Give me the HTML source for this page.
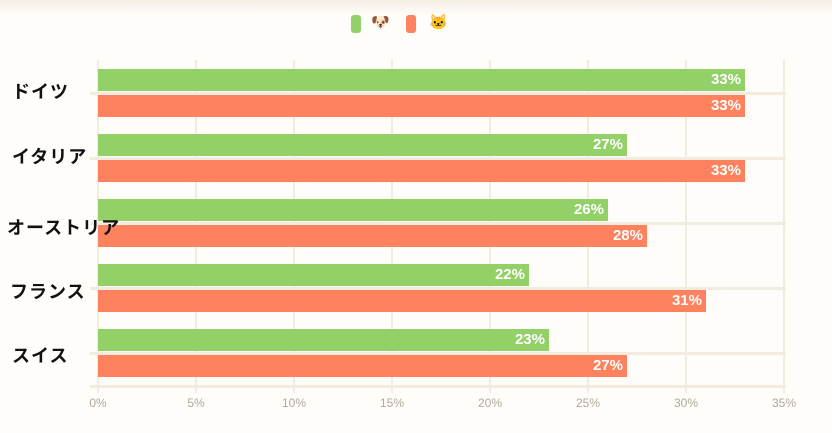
<!DOCTYPE html>
<html><head><meta charset="utf-8"><style>
body{margin:0;width:832px;height:433px;overflow:hidden;background:#fffdfa;font-family:"Liberation Sans","Noto Sans CJK JP",sans-serif;position:relative}
.top{position:absolute;left:0;top:0;width:832px;height:16px;background:linear-gradient(#f5eee4,#fffdfa)}
.v{position:absolute;top:60px;height:333px;width:2px;background:#f1ebe0}
.h{position:absolute;left:90px;width:696px;height:3px;background:#f1ebe0}
.b{position:absolute;left:98px;height:22px;color:#fff;font-weight:bold;font-size:15px;line-height:22px;text-align:right;box-sizing:border-box;padding-right:4px;font-family:"Liberation Sans Narrow","Liberation Sans",sans-serif}
.g{background:#93d068}.o{background:#fe825d}
.l{position:absolute;font-size:18px;font-weight:bold;color:#111;font-family:"Noto Sans CJK JP",sans-serif;letter-spacing:1px}
.t{position:absolute;top:396px;font-size:12px;color:#b0a898;width:40px;margin-left:-20px;text-align:center}
.sw{position:absolute;top:15px;width:10px;height:18px;border-radius:3px}
.em{position:absolute;top:13px;font-size:15px}
</style></head><body>
<div class="top"></div>
<div class="sw" style="left:351px;background:#93d068"></div><div class="em" style="left:371px">🐶</div>
<div class="sw" style="left:406px;background:#fe825d"></div><div class="em" style="left:429px">🐱</div>
<div class="v" style="left:97px"></div><div class="v" style="left:195px"></div><div class="v" style="left:293px"></div><div class="v" style="left:391px"></div><div class="v" style="left:489px"></div><div class="v" style="left:587px"></div><div class="v" style="left:685px"></div><div class="v" style="left:783px"></div>
<div class="h" style="top:92px"></div><div class="h" style="top:157px"></div><div class="h" style="top:222px"></div><div class="h" style="top:287px"></div><div class="h" style="top:352px"></div><div class="h" style="top:385px"></div>
<div class="b g" style="top:69px;width:647px">33%</div><div class="b o" style="top:95px;width:647px">33%</div>
<div class="b g" style="top:134px;width:529px">27%</div><div class="b o" style="top:160px;width:647px">33%</div>
<div class="b g" style="top:199px;width:510px">26%</div><div class="b o" style="top:225px;width:549px">28%</div>
<div class="b g" style="top:264px;width:431px">22%</div><div class="b o" style="top:290px;width:608px">31%</div>
<div class="b g" style="top:329px;width:451px">23%</div><div class="b o" style="top:355px;width:529px">27%</div>
<div class="l" style="left:12px;top:78px">ドイツ</div>
<div class="l" style="left:12px;top:143px">イタリア</div>
<div class="l" style="left:7px;top:214px">オーストリア</div>
<div class="l" style="left:10px;top:278px">フランス</div>
<div class="l" style="left:12px;top:342px">スイス</div>
<div class="t" style="left:98px">0%</div><div class="t" style="left:196px">5%</div><div class="t" style="left:294px">10%</div><div class="t" style="left:392px">15%</div><div class="t" style="left:490px">20%</div><div class="t" style="left:588px">25%</div><div class="t" style="left:686px">30%</div><div class="t" style="left:784px">35%</div>
</body></html>
